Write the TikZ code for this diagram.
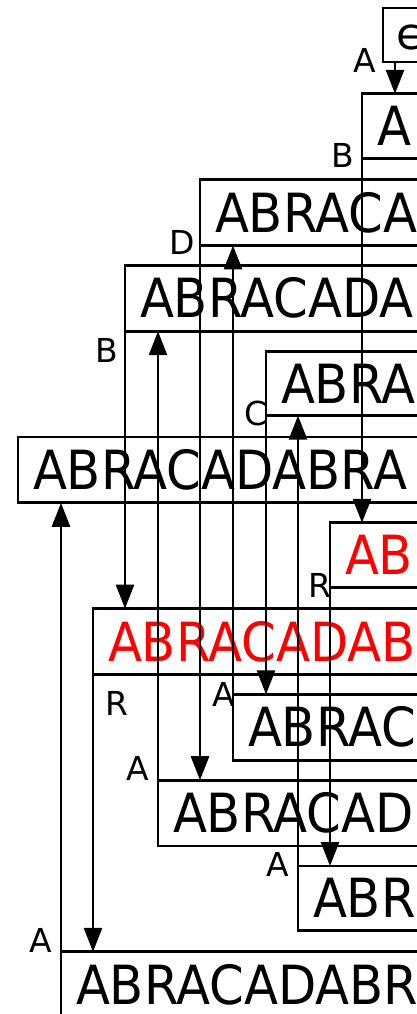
\documentclass[tikz,border=0pt]{standalone}
\usepackage{fontspec}
\setmainfont{DejaVu Sans}
\newfontfamily\statefont[FakeStretch=0.92]{DejaVu Sans}
\usetikzlibrary{arrows.meta}

\tikzset{
  state/.style={draw, line width=2.8pt, outer sep=0pt, anchor=north west,
    inner xsep=15pt, inner ysep=12.5pt, font=\statefont\fontsize{54}{60}\selectfont},
  hit/.style={state, text=red},
  sym/.style={font=\fontsize{33}{40}\selectfont, inner sep=0pt},
  edge/.style={line width=2.8pt, -{Triangle[length=24pt,width=18pt]}},
}

\begin{document}
\begin{tikzpicture}[x=1pt, y=-1pt]
\useasboundingbox (0,0) rectangle (417,1014);
\clip (0,0) rectangle (417,1014);

\node[state, inner xsep=13pt, font=\fontsize{44}{48}\selectfont, text height=29pt, text depth=0pt] (eps) at (383,8) {ϵ};
\node[state] (a) at (362,93.8) {A};
\node[state] (abraca) at (200,179.6) {ABRACA};
\node[state] (abracada) at (125,265.4) {ABRACADA};
\node[state] (abra) at (266,351.2) {ABRA};
\node[state] (abracadabra) at (18,437) {ABRACADABRA};
\node[hit] (ab) at (330,522.8) {AB};
\node[hit] (abracadab) at (93,608.6) {ABRACADAB};
\node[state] (abrac) at (233,694.4) {ABRAC};
\node[state] (abracad) at (158,780.2) {ABRACAD};
\node[state] (abr) at (298,866) {ABR};
\node[state] (abracadabr) at (61,951.8) {ABRACADABR};

% letters on the edges
\node[sym] (la) at (364.5,60.5) {A};
\node[sym] (lb) at (343,155) {B};
\node[sym] (ld) at (182,242) {D};
\node[sym] (lb2) at (107,350) {B};
\node[sym] (lc) at (256,413) {C};
\node[sym] (lr) at (320,585) {R};
\node[sym] (lr2) at (117,703) {R};
\node[sym] (la2) at (224,694) {A};
\node[sym] (la3) at (138,768) {A};
\node[sym] (la4) at (278,864) {A};
\node[sym] (la5) at (41,940) {A};

% downward edges
\draw [edge] ([xshift=12pt]eps.south west) -- ([xshift=12pt]eps.south west |- a.north);
\draw [edge] (a.south west) -- (a.south west |- ab.north);
\draw [edge] (abraca.south west) -- (abraca.south west |- abracad.north);
\draw [edge] (abracada.south west) -- (abracada.south west |- abracadab.north);
\draw [edge] (abra.south west) -- (abra.south west |- abrac.north);
\draw [edge] (ab.south west) -- (ab.south west |- abr.north);
\draw [edge] (abracadab.south west) -- (abracadab.south west |- abracadabr.north);

% upward edges
\draw [edge] (abracadabr.north west) -- (abracadabr.north west |- abracadabra.south);
\draw [edge] (abrac.north west) -- (abrac.north west |- abraca.south);
\draw [edge] (abracad.north west) -- (abracad.north west |- abracada.south);
\draw [edge] (abr.north west) -- (abr.north west |- abra.south);
\end{tikzpicture}
\end{document}
